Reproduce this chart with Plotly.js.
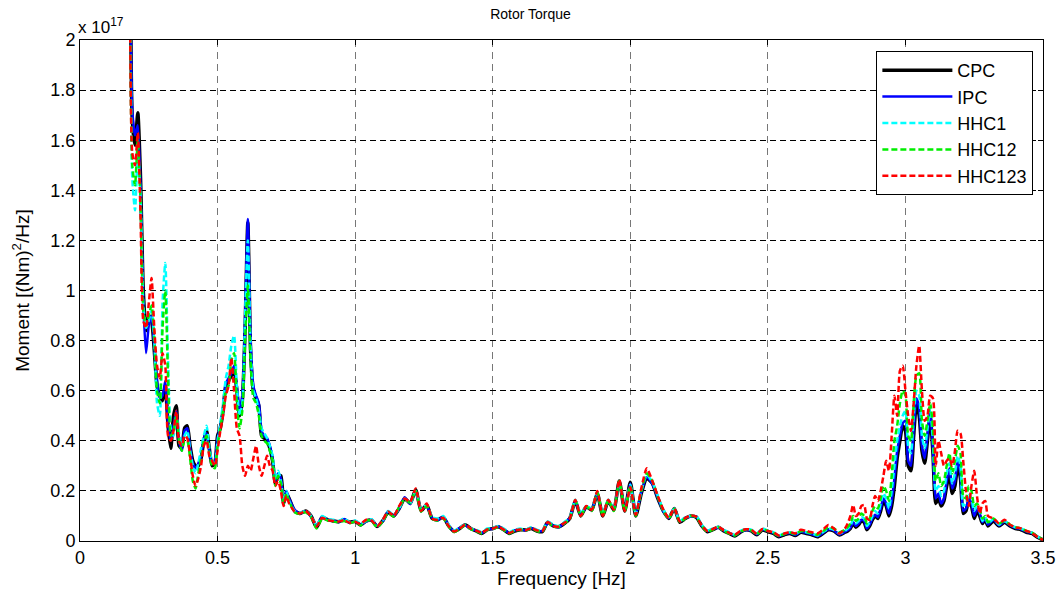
<!DOCTYPE html>
<html>
<head>
<meta charset="utf-8">
<script src="https://cdn.plot.ly/plotly-3.0.1.min.js"></script>
<style>
  html, body { margin: 0; padding: 0; background: #fff; }
  #chart { width: 1061px; height: 596px; }
</style>
</head>
<body>
<div id="chart"></div>
<script>
// Frequency grid [Hz]
const freq = [
  0.18,0.19,0.20,0.21,0.22,0.23,0.24,0.25,0.26,0.27,
  0.28,0.29,0.30,0.31,0.32,0.33,0.34,0.35,0.36,0.37,
  0.38,0.39,0.40,0.41,0.42,0.43,0.44,0.45,0.46,0.47,
  0.48,0.49,0.50,0.51,0.52,0.53,0.54,0.55,0.56,0.57,
  0.58,0.59,0.60,0.61,0.62,0.63,0.64,0.65,0.66,0.67,
  0.68,0.69,0.70,0.71,0.72,0.73,0.74,0.75,0.76,
  0.78,0.80,0.82,0.84,0.86,0.88,0.90,0.92,0.94,0.96,
  0.98,1.00,1.02,1.04,1.06,1.08,1.10,1.12,1.14,1.16,
  1.18,1.20,1.22,1.24,1.26,1.28,1.30,1.32,1.34,1.36,
  1.38,1.40,1.42,1.44,1.46,1.48,1.50,1.52,1.54,1.56,
  1.58,1.60,1.62,1.64,1.66,1.68,1.70,1.72,1.74,1.76,
  1.78,1.80,1.82,1.84,1.86,1.88,1.90,1.92,1.94,1.96,
  1.98,2.00,2.02,2.04,2.06,2.08,2.10,2.12,2.14,2.16,
  2.18,2.20,2.22,2.24,2.26,2.28,2.30,2.32,2.34,2.36,
  2.38,2.40,2.42,2.44,2.46,2.48,2.50,2.52,2.54,2.56,
  2.58,2.60,2.62,2.64,2.66,2.68,2.70,2.72,2.74,2.76,
  2.78,2.79,2.80,2.81,2.82,2.83,2.84,2.85,2.86,2.87,
  2.88,2.89,2.90,2.91,2.92,2.93,2.94,2.95,2.96,2.97,
  2.98,2.99,3.00,3.01,3.02,3.03,3.04,3.05,3.06,3.07,
  3.08,3.09,3.10,3.11,3.12,3.13,3.14,3.15,3.16,3.17,
  3.18,3.19,3.20,3.21,3.22,3.23,3.24,3.25,3.26,3.27,
  3.28,3.29,3.30,3.32,3.34,3.36,3.38,3.40,3.42,3.44,
  3.46,3.48,3.50
];

// Torque spectra, in units of 1e17 (Nm)^2/Hz
const cpc = [
  3.2,1.68,1.58,1.71,1.45,1.00,0.84,0.90,0.88,0.76,
  0.62,0.58,0.56,0.62,0.46,0.37,0.50,0.54,0.38,0.37,
  0.45,0.46,0.38,0.32,0.30,0.30,0.33,0.40,0.44,0.37,
  0.30,0.31,0.42,0.45,0.52,0.62,0.64,0.66,0.68,0.60,
  0.50,0.56,0.85,1.27,0.76,0.60,0.57,0.54,0.42,0.41,
  0.40,0.37,0.32,0.23,0.26,0.26,0.15,0.19,0.17,
  0.12,0.11,0.12,0.10,0.055,0.095,0.085,0.08,0.077,0.085,
  0.075,0.078,0.064,0.08,0.083,0.058,0.08,0.115,0.10,0.13,
  0.17,0.15,0.205,0.12,0.145,0.09,0.085,0.095,0.06,0.038,
  0.05,0.065,0.05,0.04,0.03,0.045,0.05,0.057,0.045,0.03,
  0.04,0.045,0.044,0.05,0.04,0.037,0.075,0.06,0.057,0.07,
  0.09,0.16,0.10,0.137,0.124,0.19,0.10,0.16,0.124,0.24,
  0.12,0.235,0.10,0.19,0.25,0.23,0.17,0.12,0.09,0.13,
  0.075,0.09,0.10,0.095,0.06,0.037,0.045,0.055,0.04,0.03,
  0.02,0.035,0.045,0.04,0.025,0.044,0.037,0.03,0.017,0.025,
  0.03,0.022,0.035,0.03,0.025,0.017,0.03,0.045,0.04,0.024,
  0.035,0.04,0.05,0.07,0.055,0.065,0.08,0.075,0.045,0.06,
  0.085,0.10,0.09,0.12,0.16,0.14,0.10,0.14,0.22,0.33,
  0.40,0.46,0.44,0.30,0.28,0.42,0.55,0.50,0.36,0.31,
  0.40,0.50,0.35,0.15,0.17,0.14,0.16,0.22,0.27,0.19,
  0.22,0.30,0.25,0.11,0.12,0.16,0.14,0.09,0.12,0.10,
  0.07,0.085,0.06,0.08,0.06,0.075,0.06,0.05,0.045,0.035,
  0.03,0.015,0.004
];

const ipc = [
  3.2,1.72,1.62,1.66,1.40,0.95,0.75,0.86,0.90,0.78,
  0.64,0.57,0.58,0.64,0.47,0.40,0.46,0.52,0.40,0.36,
  0.44,0.45,0.37,0.31,0.29,0.31,0.34,0.41,0.43,0.36,
  0.31,0.32,0.41,0.46,0.53,0.63,0.65,0.67,0.70,0.62,
  0.52,0.58,0.88,1.285,0.80,0.62,0.58,0.55,0.44,0.42,
  0.41,0.38,0.33,0.24,0.27,0.25,0.16,0.20,0.17,
  0.125,0.11,0.118,0.098,0.06,0.097,0.084,0.082,0.075,0.088,
  0.072,0.08,0.066,0.078,0.085,0.06,0.078,0.118,0.10,0.128,
  0.175,0.148,0.20,0.125,0.14,0.092,0.083,0.097,0.062,0.04,
  0.052,0.063,0.048,0.042,0.032,0.047,0.048,0.058,0.047,0.032,
  0.042,0.047,0.042,0.052,0.042,0.04,0.072,0.062,0.055,0.072,
  0.092,0.158,0.105,0.135,0.128,0.188,0.105,0.158,0.13,0.235,
  0.125,0.23,0.105,0.195,0.255,0.228,0.172,0.118,0.092,0.128,
  0.078,0.092,0.098,0.097,0.062,0.04,0.047,0.053,0.042,0.032,
  0.022,0.037,0.043,0.042,0.027,0.046,0.039,0.032,0.019,0.027,
  0.032,0.024,0.037,0.032,0.027,0.019,0.032,0.047,0.042,0.026,
  0.037,0.043,0.053,0.075,0.06,0.07,0.085,0.08,0.05,0.065,
  0.09,0.105,0.095,0.13,0.17,0.15,0.11,0.16,0.25,0.36,
  0.42,0.47,0.48,0.32,0.30,0.45,0.57,0.53,0.38,0.33,
  0.42,0.52,0.37,0.17,0.19,0.15,0.17,0.24,0.29,0.21,
  0.24,0.32,0.27,0.12,0.13,0.17,0.15,0.10,0.13,0.11,
  0.075,0.09,0.065,0.085,0.062,0.078,0.062,0.052,0.047,0.037,
  0.032,0.017,0.005
];

const hhc1 = [
  3.2,1.45,1.32,1.55,1.38,0.95,0.85,0.88,0.92,0.80,
  0.55,0.50,0.95,1.11,0.72,0.45,0.42,0.50,0.43,0.38,
  0.42,0.44,0.36,0.30,0.27,0.31,0.37,0.42,0.46,0.37,
  0.32,0.31,0.40,0.47,0.55,0.65,0.70,0.78,0.82,0.62,
  0.50,0.55,0.90,1.20,0.78,0.60,0.57,0.52,0.45,0.43,
  0.41,0.38,0.34,0.25,0.28,0.24,0.17,0.20,0.16,
  0.12,0.112,0.12,0.10,0.06,0.10,0.088,0.085,0.08,0.09,
  0.075,0.082,0.07,0.08,0.087,0.062,0.08,0.12,0.105,0.13,
  0.17,0.15,0.20,0.13,0.145,0.095,0.09,0.10,0.065,0.042,
  0.055,0.065,0.05,0.045,0.035,0.05,0.052,0.06,0.05,0.035,
  0.045,0.05,0.045,0.055,0.045,0.042,0.078,0.065,0.06,0.075,
  0.095,0.165,0.11,0.14,0.13,0.195,0.11,0.165,0.13,0.23,
  0.13,0.225,0.11,0.20,0.265,0.235,0.18,0.125,0.095,0.13,
  0.08,0.095,0.10,0.10,0.065,0.042,0.05,0.057,0.045,0.035,
  0.025,0.04,0.047,0.045,0.03,0.05,0.042,0.035,0.022,0.03,
  0.035,0.027,0.04,0.035,0.03,0.022,0.035,0.05,0.045,0.03,
  0.04,0.05,0.06,0.085,0.07,0.08,0.095,0.09,0.06,0.075,
  0.10,0.12,0.11,0.15,0.19,0.17,0.13,0.20,0.30,0.40,
  0.46,0.50,0.52,0.38,0.35,0.50,0.60,0.58,0.42,0.37,
  0.45,0.53,0.40,0.20,0.22,0.18,0.20,0.27,0.31,0.23,
  0.27,0.34,0.30,0.14,0.15,0.19,0.17,0.12,0.14,0.12,
  0.08,0.095,0.07,0.088,0.065,0.08,0.065,0.055,0.05,0.04,
  0.033,0.018,0.005
];

const hhc12 = [
  3.2,1.50,1.42,1.60,1.35,0.92,0.86,0.90,0.94,0.82,
  0.60,0.55,0.85,1.00,0.65,0.42,0.44,0.50,0.40,0.36,
  0.40,0.40,0.33,0.24,0.21,0.27,0.33,0.40,0.42,0.35,
  0.30,0.29,0.38,0.45,0.52,0.60,0.62,0.72,0.75,0.55,
  0.45,0.52,0.80,1.02,0.72,0.57,0.55,0.50,0.42,0.40,
  0.39,0.36,0.32,0.22,0.26,0.23,0.15,0.19,0.16,
  0.115,0.108,0.115,0.095,0.05,0.09,0.082,0.078,0.075,0.08,
  0.07,0.078,0.062,0.082,0.08,0.055,0.078,0.112,0.098,0.135,
  0.168,0.152,0.20,0.118,0.14,0.088,0.082,0.09,0.058,0.036,
  0.048,0.062,0.047,0.04,0.03,0.045,0.048,0.055,0.044,0.03,
  0.04,0.045,0.042,0.05,0.04,0.037,0.073,0.058,0.056,0.07,
  0.088,0.162,0.10,0.138,0.12,0.195,0.10,0.162,0.12,0.24,
  0.118,0.22,0.10,0.20,0.27,0.24,0.175,0.12,0.09,0.128,
  0.075,0.09,0.10,0.095,0.06,0.037,0.045,0.055,0.04,0.03,
  0.022,0.037,0.045,0.042,0.027,0.046,0.04,0.032,0.02,0.028,
  0.034,0.027,0.04,0.036,0.032,0.025,0.038,0.055,0.05,0.035,
  0.045,0.055,0.07,0.10,0.08,0.09,0.11,0.10,0.07,0.09,
  0.12,0.14,0.13,0.17,0.22,0.20,0.16,0.26,0.40,0.46,
  0.55,0.60,0.58,0.42,0.40,0.55,0.66,0.67,0.48,0.42,
  0.48,0.55,0.45,0.24,0.27,0.22,0.24,0.30,0.35,0.27,
  0.32,0.38,0.35,0.18,0.17,0.22,0.20,0.14,0.15,0.13,
  0.09,0.10,0.075,0.09,0.07,0.08,0.065,0.055,0.05,0.04,
  0.033,0.018,0.005
];

const hhc123 = [
  3.2,1.55,1.50,1.63,1.30,0.88,0.85,0.95,1.05,0.85,
  0.70,0.65,0.75,0.70,0.42,0.40,0.44,0.52,0.40,0.38,
  0.42,0.41,0.34,0.26,0.22,0.25,0.30,0.38,0.40,0.34,
  0.32,0.30,0.36,0.44,0.50,0.58,0.62,0.73,0.60,0.45,
  0.42,0.30,0.26,0.30,0.28,0.33,0.38,0.30,0.26,0.30,
  0.34,0.30,0.28,0.22,0.24,0.20,0.14,0.18,0.15,
  0.118,0.11,0.12,0.098,0.058,0.093,0.083,0.08,0.078,0.083,
  0.073,0.077,0.068,0.085,0.082,0.06,0.083,0.118,0.10,0.14,
  0.17,0.155,0.21,0.12,0.15,0.09,0.085,0.093,0.06,0.038,
  0.05,0.066,0.05,0.042,0.033,0.046,0.05,0.057,0.046,0.032,
  0.042,0.046,0.043,0.052,0.043,0.039,0.076,0.06,0.058,0.072,
  0.09,0.165,0.10,0.14,0.125,0.20,0.10,0.165,0.125,0.245,
  0.12,0.215,0.105,0.21,0.29,0.24,0.18,0.125,0.092,0.13,
  0.078,0.092,0.102,0.097,0.062,0.04,0.048,0.057,0.042,0.032,
  0.025,0.04,0.047,0.045,0.028,0.048,0.04,0.035,0.022,0.03,
  0.036,0.03,0.045,0.04,0.035,0.03,0.045,0.064,0.05,0.03,
  0.05,0.07,0.10,0.144,0.10,0.11,0.14,0.144,0.09,0.084,
  0.14,0.18,0.16,0.20,0.26,0.32,0.28,0.42,0.58,0.50,
  0.68,0.70,0.60,0.50,0.44,0.55,0.70,0.78,0.60,0.48,
  0.50,0.58,0.57,0.30,0.40,0.35,0.30,0.32,0.33,0.30,
  0.36,0.44,0.43,0.32,0.20,0.14,0.22,0.28,0.18,0.11,
  0.15,0.16,0.10,0.09,0.07,0.085,0.065,0.055,0.05,0.04,
  0.032,0.016,0.004
];

const seriesNames = ['CPC', 'IPC', 'HHC1', 'HHC12', 'HHC123'];
const xTicks = [0, 0.5, 1, 1.5, 2, 2.5, 3, 3.5];
const yTicks = [0, 0.2, 0.4, 0.6, 0.8, 1, 1.2, 1.4, 1.6, 1.8, 2];

const styles = [
  { color: '#000000', width: 3.5, dash: 'solid' },
  { color: '#0000ff', width: 2.5, dash: 'solid' },
  { color: '#00ffff', width: 2.5, dash: '6px,3px' },
  { color: '#00ee00', width: 2.5, dash: '6px,3px' },
  { color: '#ff0000', width: 2.5, dash: '6px,3px' }
];

const values = [cpc, ipc, hhc1, hhc12, hhc123];
const traces = values.map((v, i) => ({
  type: 'scatter',
  mode: 'lines',
  name: seriesNames[i],
  x: freq,
  y: v,
  line: { color: styles[i].color, width: styles[i].width, dash: styles[i].dash, shape: 'spline', smoothing: 0.6 },
  hoverinfo: 'skip'
}));

const fontFam = '"Liberation Sans", Arial, Helvetica, sans-serif';

const layout = {
  width: 1061,
  height: 596,
  margin: { l: 80, r: 18, t: 40, b: 55 },
  paper_bgcolor: '#ffffff',
  plot_bgcolor: '#ffffff',
  font: { family: fontFam, size: 16, color: '#000' },
  title: { text: 'Rotor Torque', x: 0.5, xanchor: 'center', y: 0.985, yanchor: 'top', font: { size: 14, family: fontFam, color: '#000' } },
  showlegend: true,
  legend: {
    x: 0.99, xanchor: 'right', y: 0.978, yanchor: 'top',
    bgcolor: '#ffffff', bordercolor: '#000', borderwidth: 1,
    font: { size: 18, family: fontFam, color: '#000' },
    itemwidth: 70,
    traceorder: 'normal'
  },
  xaxis: {
    range: [0, 3.5],
    tickvals: xTicks,
    ticktext: xTicks.map(String),
    ticks: 'inside', ticklen: 5, tickcolor: '#000', tickwidth: 1,
    showline: true, linecolor: '#000', linewidth: 1, mirror: 'allticks',
    showgrid: true, gridcolor: '#777', gridwidth: 1, griddash: '7px,5px',
    zeroline: false,
    tickfont: { size: 18, family: fontFam, color: '#000' },
    title: { text: 'Frequency [Hz]', font: { size: 19, family: fontFam, color: '#000' }, standoff: 3 }
  },
  yaxis: {
    range: [0, 2],
    tickvals: yTicks,
    ticktext: yTicks.map(String),
    ticks: 'inside', ticklen: 5, tickcolor: '#000', tickwidth: 1,
    showline: true, linecolor: '#000', linewidth: 1, mirror: 'allticks',
    showgrid: true, gridcolor: '#000', gridwidth: 1, griddash: '6px,4px',
    zeroline: false,
    tickfont: { size: 18, family: fontFam, color: '#000' },
    title: { text: 'Moment [(Nm)<sup>2</sup>/Hz]', font: { size: 19, family: fontFam, color: '#000' }, standoff: 15 }
  },
  annotations: [{
    xref: 'paper', yref: 'paper', x: 0, y: 1,
    xanchor: 'left', yanchor: 'bottom', xshift: -4, yshift: 1,
    text: 'x 10<sup>17</sup>', showarrow: false,
    font: { size: 17, family: fontFam, color: '#000' }
  }]
};

Plotly.newPlot('chart', traces, layout, { staticPlot: true, displayModeBar: false });
</script>
</body>
</html>
